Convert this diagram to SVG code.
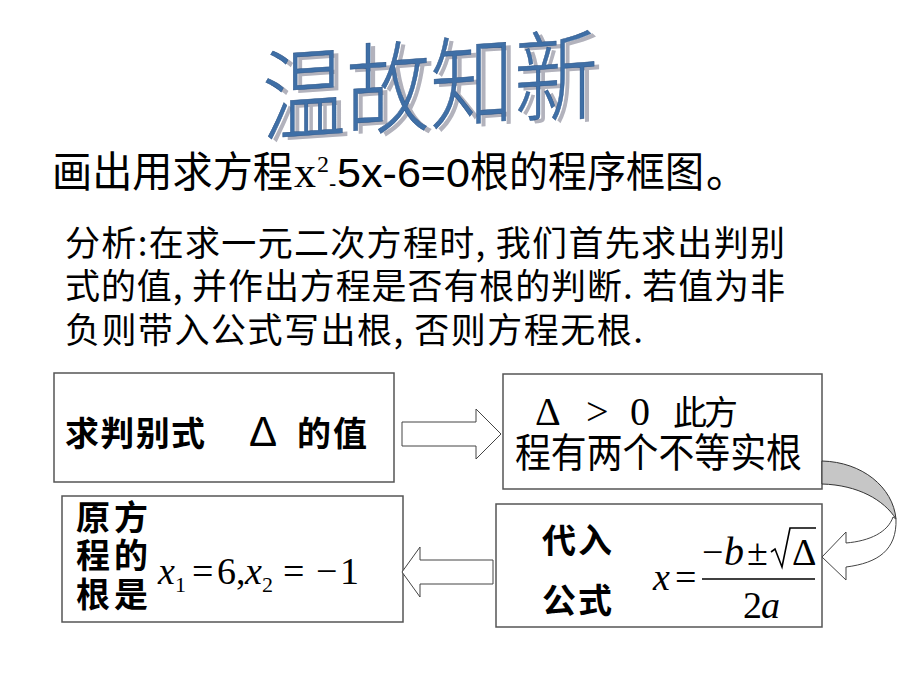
<svg xmlns="http://www.w3.org/2000/svg" width="920" height="690" viewBox="0 0 920 690">
<style>
.cjk{font-family:"Noto Sans CJK SC","Noto Sans CJK TC",sans-serif;fill:#000}
.b{font-weight:bold}
.ser{font-family:"Liberation Serif","Times New Roman",serif;fill:#000}
.it{font-style:italic}
.sans{font-family:"Liberation Sans",Arial,sans-serif;fill:#000}
.box{fill:#fff;stroke:#555;stroke-width:1.5}
.arr{fill:#fff;stroke:#444;stroke-width:1}
.ttl{font-family:"Noto Sans CJK SC",sans-serif;font-size:100px;font-weight:300}
</style>
<rect width="920" height="690" fill="#fff"/>

<g id="title">
  <g transform="translate(267,137) skewY(-4) scale(0.84,1)">
    <text class="ttl" x="0" y="0" fill="#b2b2bc">温故知新</text>
  </g>
  <g transform="translate(262,134) skewY(-4) scale(0.84,1)">
    <text class="ttl" x="0" y="0" fill="#3f6fa6" stroke="#2b5385" stroke-width="0.5">温故知新</text>
  </g>
</g>

<g id="heading">
  <text class="cjk" x="52" y="187" font-size="42" textLength="241" lengthAdjust="spacingAndGlyphs">画出用求方程</text>
  <text class="ser" x="294" y="187" font-size="44">x</text>
  <text class="ser" x="317" y="172" font-size="24">2</text>
  <text class="sans" x="329" y="191" font-size="22">-</text>
  <text class="sans" x="337" y="187" font-size="40" textLength="133" lengthAdjust="spacingAndGlyphs">5x-6=0</text>
  <text class="cjk" x="470" y="187" font-size="42" textLength="234" lengthAdjust="spacingAndGlyphs">根的程序框图</text>
  <text class="cjk" x="706" y="187" font-size="42">。</text>
</g>

<g id="analysis">
  <text class="cjk" x="65" y="256" font-size="35" textLength="720">分析:在求一元二次方程时, 我们首先求出判别</text>
  <text class="cjk" x="65" y="299" font-size="35" textLength="720">式的值, 并作出方程是否有根的判断. 若值为非</text>
  <text class="cjk" x="65" y="343" font-size="35" textLength="578">负则带入公式写出根, 否则方程无根.</text>
</g>

<g id="node-discriminant">
  <rect class="box" x="54" y="373" width="340" height="109"/>
  <text class="cjk b" x="65" y="446" font-size="34" textLength="140">求判别式</text>
  <text class="sans" x="249" y="446" font-size="42">Δ</text>
  <text class="cjk b" x="297" y="446" font-size="34" textLength="70">的值</text>
</g>

<g id="node-positive">
  <rect class="box" x="503" y="374" width="319" height="115"/>
  <text class="ser" x="535" y="425" font-size="40">Δ</text>
  <text class="ser" x="586" y="425" font-size="40">&gt;</text>
  <text class="ser" x="630" y="425" font-size="40">0</text>
  <text class="cjk" x="673" y="425" font-size="34" textLength="65">此方</text>
  <text class="cjk" x="515" y="467" font-size="40" textLength="287" lengthAdjust="spacingAndGlyphs">程有两个不等实根</text>
</g>

<g id="node-formula">
  <rect class="box" x="496" y="504" width="326" height="123"/>
  <text class="cjk b" x="542" y="553" font-size="34" textLength="70">代入</text>
  <text class="cjk b" x="542" y="613" font-size="34" textLength="70">公式</text>
  <text class="ser it" x="653" y="590" font-size="38">x</text>
  <text class="ser" x="675" y="590" font-size="38">=</text>
  <line x1="702" y1="579" x2="815" y2="579" stroke="#000" stroke-width="1.5"/>
  <text class="ser" x="702" y="565" font-size="38">−</text>
  <text class="ser it" x="724" y="565" font-size="40">b</text>
  <text class="ser" x="747" y="565" font-size="38">±</text>
  <path d="M771,552 L775,549 L782,567 L790,528 L816,528" fill="none" stroke="#000" stroke-width="1.6"/>
  <text class="ser" x="792" y="565" font-size="38">Δ</text>
  <text class="ser" x="743" y="618" font-size="38">2</text>
  <text class="ser it" x="761" y="618" font-size="38">a</text>
</g>

<g id="node-roots">
  <rect class="box" x="62" y="496" width="341" height="126"/>
  <text class="cjk b" x="76" y="530" font-size="34" textLength="72">原方</text>
  <text class="cjk b" x="76" y="568" font-size="34" textLength="72">程的</text>
  <text class="cjk b" x="76" y="607" font-size="34" textLength="72">根是</text>
  <text class="ser it" x="158" y="584" font-size="38">x</text>
  <text class="ser" x="175" y="592" font-size="22">1</text>
  <text class="ser" x="192" y="584" font-size="38">=</text>
  <text class="ser" x="217" y="584" font-size="38">6</text>
  <text class="ser" x="236" y="584" font-size="38">,</text>
  <text class="ser it" x="245" y="584" font-size="38">x</text>
  <text class="ser" x="262" y="592" font-size="22">2</text>
  <text class="ser" x="283" y="584" font-size="38">=</text>
  <text class="ser" x="316" y="584" font-size="38">−</text>
  <text class="ser" x="340" y="584" font-size="38">1</text>
</g>

<g id="connectors">
  <polygon class="arr" points="402,422 476,422 476,409 501,434 476,459 476,446 402,446"/>
  <path d="M822,461 C862,462 893,487 896,519 C884,500 858,485 822,484 Z" fill="#c6c6c6" stroke="#333" stroke-width="1"/>
  <path class="arr" d="M893,517 C888,532 870,541 846,543 L846,532 L822,557 L846,580 L846,567 C878,563 897,550 896,519 Z"/>
  <polygon class="arr" points="402,572 420,547 420,560 493,560 493,584 420,584 420,597"/>
</g>
</svg>
